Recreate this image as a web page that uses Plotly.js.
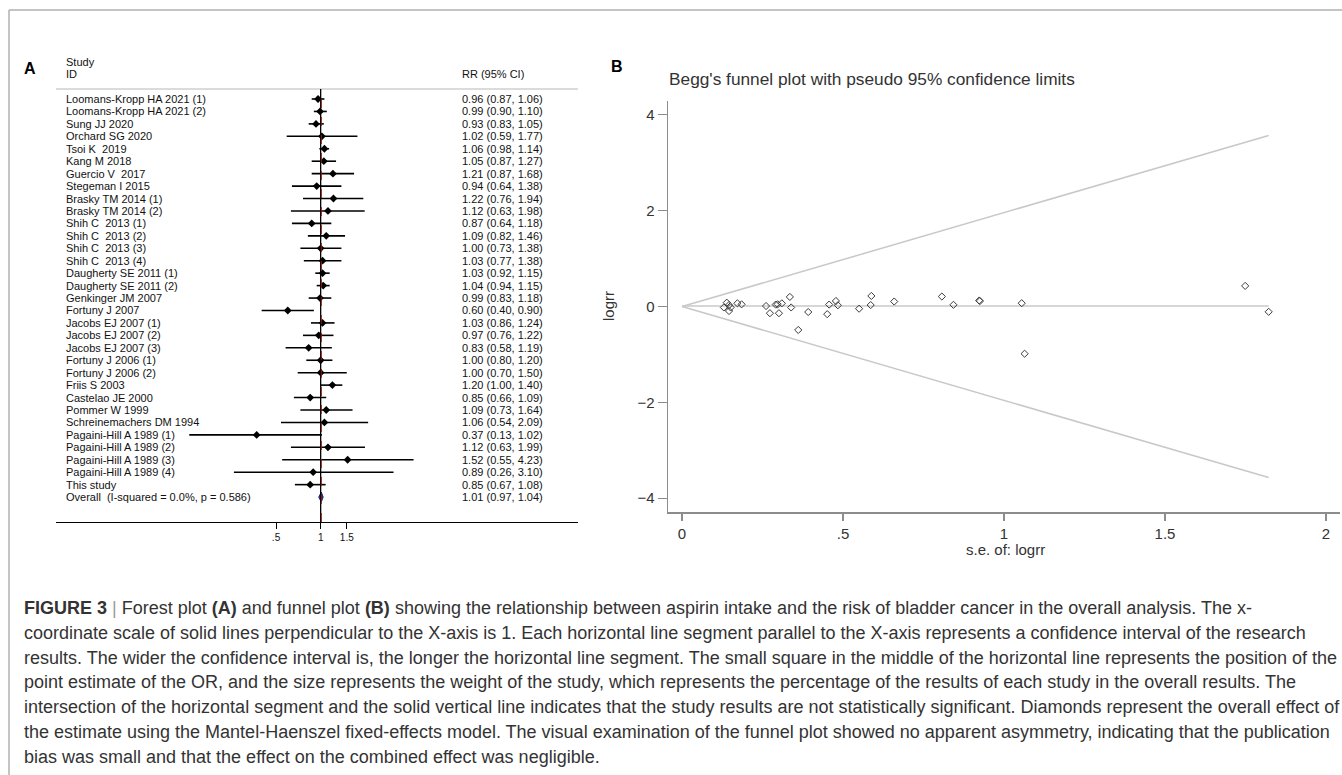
<!DOCTYPE html>
<html>
<head>
<meta charset="utf-8">
<script src="https://cdn.plot.ly/plotly-3.0.1.min.js"></script>
<style>
html,body{margin:0;padding:0;background:#fff;}
#chart{width:1342px;height:775px;}
</style>
</head>
<body>
<div id="chart"></div>
<script>
// ---------------- Forest plot data (panel A) ----------------
const studies = [
  "Loomans-Kropp HA 2021 (1)", "Loomans-Kropp HA 2021 (2)", "Sung JJ 2020", "Orchard SG 2020",
  "Tsoi K  2019", "Kang M 2018", "Guercio V  2017", "Stegeman I 2015",
  "Brasky TM 2014 (1)", "Brasky TM 2014 (2)", "Shih C  2013 (1)", "Shih C  2013 (2)",
  "Shih C  2013 (3)", "Shih C  2013 (4)", "Daugherty SE 2011 (1)", "Daugherty SE 2011 (2)",
  "Genkinger JM 2007", "Fortuny J 2007", "Jacobs EJ 2007 (1)", "Jacobs EJ 2007 (2)",
  "Jacobs EJ 2007 (3)", "Fortuny J 2006 (1)", "Fortuny J 2006 (2)", "Friis S 2003",
  "Castelao JE 2000", "Pommer W 1999", "Schreinemachers DM 1994", "Pagaini-Hill A 1989 (1)",
  "Pagaini-Hill A 1989 (2)", "Pagaini-Hill A 1989 (3)", "Pagaini-Hill A 1989 (4)", "This study"
];
const rr    = [0.96,0.99,0.93,1.02,1.06,1.05,1.21,0.94,1.22,1.12,0.87,1.09,1.00,1.03,1.03,1.04,0.99,0.60,1.03,0.97,0.83,1.00,1.00,1.20,0.85,1.09,1.06,0.37,1.12,1.52,0.89,0.85];
const ciLow = [0.87,0.90,0.83,0.59,0.98,0.87,0.87,0.64,0.76,0.63,0.64,0.82,0.73,0.77,0.92,0.94,0.83,0.40,0.86,0.76,0.58,0.80,0.70,1.00,0.66,0.73,0.54,0.13,0.63,0.55,0.26,0.67];
const ciHigh= [1.06,1.10,1.05,1.77,1.14,1.27,1.68,1.38,1.94,1.98,1.18,1.46,1.38,1.38,1.15,1.15,1.18,0.90,1.24,1.22,1.19,1.20,1.50,1.40,1.09,1.64,2.09,1.02,1.99,4.23,3.10,1.08];
const overallLabel = "Overall  (I-squared = 0.0%, p = 0.586)";
const overall = {est: 1.01, lo: 0.97, hi: 1.04};
const forestTickVals = [0.5, 1, 1.5];
const forestTickText = [".5", "1", "1.5"];

// ---------------- Funnel plot data (panel B) ----------------
const seLogrr = [0.130,0.139,0.146,0.151,0.146,0.172,0.185,0.261,0.273,0.291,0.297,0.301,0.310,0.335,0.339,0.361,0.392,0.451,0.457,0.478,0.484,0.550,0.586,0.588,0.659,0.807,0.843,0.923,0.925,1.055,1.064,1.749,1.822];
const logrr   = [-0.02,0.08,0.03,-0.02,-0.094,0.066,0.045,0.01,-0.14,0.04,0.045,-0.14,0.066,0.20,-0.02,-0.49,-0.115,-0.16,0.04,0.115,0.025,-0.046,0.03,0.22,0.104,0.208,0.035,0.125,0.113,0.069,-0.986,0.43,-0.111];
const limitSe    = [0, 1.822];
const limitUpper = [0, 3.57];
const limitLower = [0, -3.57];
const pooledLogrr = [0.01, 0.01];
const funnelXTickVals = [0, 0.5, 1, 1.5, 2];
const funnelXTickText = ["0", ".5", "1", "1.5", "2"];
const funnelYTickVals = [-4, -2, 0, 2, 4];

const caption = [
  "<b>FIGURE 3</b> <span style='color:#9a9a9a'>|</span> Forest plot <b>(A)</b> and funnel plot <b>(B)</b> showing the relationship between aspirin intake and the risk of bladder cancer in the overall analysis. The x-",
  "coordinate scale of solid lines perpendicular to the X-axis is 1. Each horizontal line segment parallel to the X-axis represents a confidence interval of the research",
  "results. The wider the confidence interval is, the longer the horizontal line segment. The small square in the middle of the horizontal line represents the position of the",
  "point estimate of the OR, and the size represents the weight of the study, which represents the percentage of the results of each study in the overall results. The",
  "intersection of the horizontal segment and the solid vertical line indicates that the study results are not statistically significant. Diamonds represent the overall effect of",
  "the estimate using the Mantel-Haenszel fixed-effects model. The visual examination of the funnel plot showed no apparent asymmetry, indicating that the publication",
  "bias was small and that the effect on the combined effect was negligible."
];

// ---------------- helpers ----------------
const W = 1342, H = 775;
const px = v => v / W;
const py = v => 1 - v / H;
const FONT = "Liberation Sans, Arial, Helvetica, sans-serif";
const NARROW = "Liberation Sans Narrow, Arial Narrow, Liberation Sans, Arial, sans-serif";

const rows = studies.map((_, i) => i + 1);
const overallRow = studies.length + 1;

// CI segments
const ciX = [], ciY = [];
rows.forEach((r, i) => { ciX.push(ciLow[i], ciHigh[i], null); ciY.push(r, r, null); });

const traces = [
  {x: ciX, y: ciY, mode: "lines", line: {color: "#000", width: 1.6}, xaxis: "x", yaxis: "y", hoverinfo: "skip"},
  {x: rr, y: rows, mode: "markers", marker: {symbol: "diamond", size: 6, color: "#000"}, xaxis: "x", yaxis: "y"},
  {x: [overall.lo, overall.est, overall.hi, overall.est, overall.lo],
   y: [overallRow, overallRow - 0.4, overallRow, overallRow + 0.4, overallRow],
   mode: "lines", fill: "toself", fillcolor: "#1c2a80", line: {color: "#1c2a80", width: 1}, xaxis: "x", yaxis: "y"},
  // funnel
  {x: limitSe, y: limitUpper, mode: "lines", line: {color: "#c8c8c8", width: 1.5}, xaxis: "x2", yaxis: "y2"},
  {x: limitSe, y: limitLower, mode: "lines", line: {color: "#c8c8c8", width: 1.5}, xaxis: "x2", yaxis: "y2"},
  {x: limitSe, y: pooledLogrr, mode: "lines", line: {color: "#c8c8c8", width: 1.5}, xaxis: "x2", yaxis: "y2"},
  {x: seLogrr, y: logrr, mode: "markers", marker: {symbol: "diamond-open", size: 5.5, color: "#3a3a3a", line: {width: 1, color: "#3a3a3a"}}, xaxis: "x2", yaxis: "y2"}
];

const annotations = [];
studies.forEach((s, i) => {
  annotations.push({text: s, xref: "paper", yref: "y", x: px(64), y: rows[i], xanchor: "left", yanchor: "middle",
    showarrow: false, font: {family: FONT, size: 11, color: "#111"}});
  annotations.push({text: rr[i].toFixed(2) + " (" + ciLow[i].toFixed(2) + ", " + ciHigh[i].toFixed(2) + ")",
    xref: "paper", yref: "y", x: px(460), y: rows[i], xanchor: "left", yanchor: "middle",
    showarrow: false, font: {family: NARROW, size: 11, color: "#111"}});
});
annotations.push({text: overallLabel, xref: "paper", yref: "y", x: px(64), y: overallRow, xanchor: "left", yanchor: "middle",
  showarrow: false, font: {family: FONT, size: 11, color: "#111"}});
annotations.push({text: overall.est.toFixed(2) + " (" + overall.lo.toFixed(2) + ", " + overall.hi.toFixed(2) + ")",
  xref: "paper", yref: "y", x: px(460), y: overallRow, xanchor: "left", yanchor: "middle",
  showarrow: false, font: {family: NARROW, size: 11, color: "#111"}});

const fixedText = [
  {t: "<b>A</b>", x: 22, y: 68, s: 16, a: "left", c: "#000"},
  {t: "Study", x: 64, y: 62, s: 11, a: "left", c: "#111"},
  {t: "ID", x: 64, y: 74, s: 11, a: "left", c: "#111"},
  {t: "RR (95% CI)", x: 460, y: 74, s: 11, a: "left", c: "#111"},
  {t: "<b>B</b>", x: 609, y: 66, s: 16, a: "left", c: "#000"},
  {t: "Begg's funnel plot with pseudo 95% confidence limits", x: 667, y: 79, s: 17.3, a: "left", c: "#333"},
  {t: "s.e. of: logrr", x: 1005, y: 549, s: 15, a: "center", c: "#333"}
];
fixedText.forEach(o => annotations.push({text: o.t, xref: "paper", yref: "paper", x: px(o.x), y: py(o.y),
  xanchor: o.a, yanchor: "middle", showarrow: false, font: {family: FONT, size: o.s, color: o.c}}));
annotations.push({text: "logrr", xref: "paper", yref: "paper", x: px(609), y: py(306), textangle: -90,
  xanchor: "center", yanchor: "middle", showarrow: false, font: {family: FONT, size: 15, color: "#333"}});

caption.forEach((line, k) => annotations.push({text: line, xref: "paper", yref: "paper", x: px(22), y: py(608 + k * 24.8),
  xanchor: "left", yanchor: "middle", showarrow: false, font: {family: FONT, size: 18, color: "#333"}}));

const shapes = [
  // frame
  {type: "line", xref: "paper", yref: "paper", x0: px(9), x1: 1, y0: py(10), y1: py(10), line: {color: "#b0b0b0", width: 1.5}},
  {type: "line", xref: "paper", yref: "paper", x0: px(9), x1: px(9), y0: py(10), y1: 0, line: {color: "#b0b0b0", width: 1.5}},
  // forest header separator
  {type: "line", xref: "paper", yref: "paper", x0: px(56), x1: px(578), y0: py(89), y1: py(89), line: {color: "#cfcfcf", width: 1.5}},
  // null line at 1
  {type: "line", xref: "x", yref: "paper", x0: 1, x1: 1, y0: py(522), y1: py(89), line: {color: "#000", width: 1.3}},
  // overall estimate dashed line
  {type: "line", xref: "x", yref: "paper", x0: overall.est, x1: overall.est, y0: py(522), y1: py(92), line: {color: "#8b1a1a", width: 1, dash: "dash"}}
];

const layout = {
  width: W, height: H,
  margin: {l: 0, r: 0, t: 0, b: 0},
  paper_bgcolor: "#fff", plot_bgcolor: "rgba(0,0,0,0)",
  showlegend: false,
  xaxis: {type: "log", domain: [px(56), px(578)], range: [-1.785, 1.7355], anchor: "y",
    showline: true, linecolor: "#000", linewidth: 1.3, showgrid: false, zeroline: false,
    ticks: "outside", ticklen: 6, tickcolor: "#000", tickwidth: 1,
    tickvals: forestTickVals, ticktext: forestTickText, tickfont: {family: FONT, size: 10, color: "#111"}},
  yaxis: {domain: [py(522), py(89)], range: [35.003, 0.196], anchor: "x",
    showline: false, showgrid: false, zeroline: false, showticklabels: false, ticks: ""},
  xaxis2: {domain: [px(668), px(1340)], range: [-0.0435, 2.0435], anchor: "y2",
    showline: true, linecolor: "#8c8c8c", linewidth: 1.5, showgrid: false, zeroline: false,
    ticks: "outside", ticklen: 7, tickcolor: "#8c8c8c", tickwidth: 1.2,
    tickvals: funnelXTickVals, ticktext: funnelXTickText, tickfont: {family: FONT, size: 15, color: "#333"}},
  yaxis2: {domain: [py(512), py(101)], range: [-4.29, 4.29], anchor: "x2",
    showline: true, linecolor: "#8c8c8c", linewidth: 1.5, showgrid: false, zeroline: false,
    ticks: "outside", ticklen: 9, tickcolor: "#8c8c8c", tickwidth: 1.2,
    tickvals: funnelYTickVals, tickfont: {family: FONT, size: 15, color: "#333"}},
  annotations: annotations,
  shapes: shapes
};

Plotly.newPlot("chart", traces, layout, {staticPlot: true, displayModeBar: false});
</script>
</body>
</html>
